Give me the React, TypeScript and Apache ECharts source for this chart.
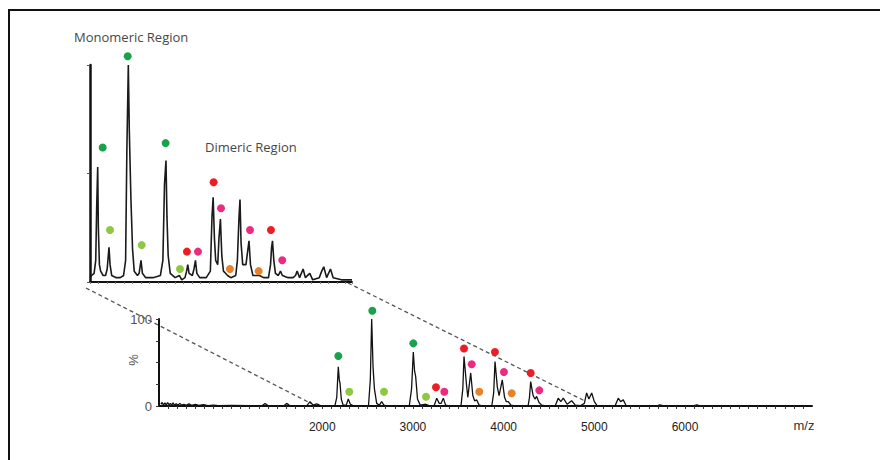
import React, { useEffect, useRef } from "react";
import * as echarts from "echarts";

// ---------- Data (m/z, relative intensity %) ----------
const xTickLabels = [2000, 3000, 4000, 5000, 6000];

const mainSpectrum: [number, number][] = [
  [220, 2], [235, 4], [250, 1], [265, 3.5], [280, 1], [295, 4], [310, 1.5], [325, 3], [340, 1], [355, 3.5],
  [370, 1], [390, 2.5], [410, 1], [430, 3], [450, 1], [475, 2], [500, 0.8], [530, 2.5], [560, 0.8], [600, 2],
  [640, 0.6], [690, 1.5], [740, 0.5], [800, 1], [860, 0.5], [1000, 0.6], [1200, 0.5],
  [1340, 0.5], [1369, 3], [1400, 0.5], [1580, 0.5], [1608, 3], [1640, 0.5],
  [1830, 0.5], [1865, 5], [1900, 1], [1939, 2.5], [1980, 0.5],
  [2140, 0.5], [2160, 10], [2177, 45], [2188, 30], [2196, 26], [2210, 8], [2230, 1], [2265, 1], [2287, 8], [2310, 2], [2340, 0.5],
  [2510, 0.5], [2530, 30], [2545, 100], [2560, 45], [2575, 20], [2600, 3], [2630, 1], [2655, 5], [2680, 1], [2700, 0.5],
  [2960, 0.5], [2985, 20], [3004, 62], [3018, 40], [3030, 34], [3050, 8], [3080, 1], [3140, 2], [3180, 0.5],
  [3235, 0.5], [3262, 9], [3290, 3], [3310, 3], [3335, 9], [3360, 1], [3390, 0.5],
  [3530, 0.5], [3550, 20], [3563, 57], [3590, 25], [3605, 10], [3637, 38], [3660, 12], [3680, 6], [3703, 7], [3730, 1], [3760, 0.5],
  [3870, 0.5], [3890, 15], [3905, 51], [3930, 22], [3950, 12], [3985, 30], [4010, 10], [4030, 5], [4051, 5], [4080, 1], [4110, 0.5],
  [4270, 0.5], [4285, 10], [4298, 28], [4325, 12], [4345, 8], [4364, 11], [4390, 4], [4420, 1], [4450, 0.5],
  [4570, 0.5], [4602, 9], [4630, 5], [4658, 9], [4700, 2], [4750, 6], [4790, 1], [4850, 0.5],
  [4890, 3], [4915, 15], [4940, 8], [4971, 15], [5000, 5], [5030, 0.5],
  [5230, 0.5], [5264, 9], [5290, 5], [5319, 7], [5350, 0.5],
  [5700, 0.5], [5720, 1.2], [5760, 0.5], [6100, 0.5], [6130, 1.2], [6160, 0.5], [7400, 0.5],
];

const insetSpectrum: [number, number][] = [
  [2080, 2], [2100, 3], [2130, 4], [2150, 10], [2162, 35], [2174, 53], [2182, 25], [2195, 8], [2210, 5], [2240, 3],
  [2270, 3], [2290, 6], [2312, 16], [2325, 8], [2345, 3], [2400, 2], [2450, 2], [2490, 3],
  [2515, 10], [2530, 60], [2548, 100], [2560, 70], [2580, 38], [2600, 15], [2620, 5], [2660, 3], [2680, 4], [2703, 10], [2720, 4],
  [2760, 2], [2850, 2], [2940, 3], [2970, 10], [2990, 45], [3008, 56], [3020, 30], [3035, 12], [3060, 4], [3120, 2],
  [3171, 3], [3200, 1], [3240, 2], [3260, 5], [3274, 8], [3290, 4], [3330, 3], [3350, 6], [3368, 10], [3385, 4], [3420, 2],
  [3500, 2], [3550, 5], [3570, 30], [3584, 39], [3600, 20], [3615, 10], [3640, 8], [3655, 20], [3673, 29], [3690, 12],
  [3710, 5], [3735, 4], [3760, 3], [3800, 2], [3860, 3], [3880, 10], [3900, 30], [3912, 38], [3925, 18], [3945, 8],
  [3985, 8], [4005, 14], [4022, 19], [4040, 8], [4070, 3], [4150, 3], [4200, 2], [4260, 2], [4285, 8], [4298, 16],
  [4309, 19], [4325, 10], [4345, 4], [4380, 3], [4406, 5], [4430, 3], [4500, 2], [4560, 2], [4590, 3], [4610, 5],
  [4640, 2], [4683, 6], [4710, 2], [4764, 4], [4800, 1], [4880, 2], [4910, 5], [4935, 7], [4970, 2], [5017, 6],
  [5050, 2], [5150, 1], [5280, 1],
];

// Marker dots (m/z, %)
const mainGreen: [number, number][] = [[2177, 57.5], [2552, 109.5], [3004, 72]];
const mainLightGreen: [number, number][] = [[2298, 16.4], [2681, 16.4], [3144, 10.7]];
const mainRed: [number, number][] = [[3254, 21.5], [3563, 66], [3904, 62], [4298, 38]];
const mainPink: [number, number][] = [[3346, 16.4], [3648, 48], [4003, 39], [4393, 18]];
const mainOrange: [number, number][] = [[3731, 16.4], [4089, 14.6]];

const insetGreen: [number, number][] = [[2235, 62], [2540, 104], [3004, 64]];
const insetLightGreen: [number, number][] = [[2324, 24], [2711, 17], [3179, 6]];
const insetRed: [number, number][] = [[3264, 14], [3590, 46], [4290, 24]];
const insetPink: [number, number][] = [[3399, 14], [3680, 34], [4034, 24], [4428, 10]];
const insetOrange: [number, number][] = [[3789, 6], [4140, 5]];

const GREEN = "#17a24b";
const LIGHT_GREEN = "#8dc83f";
const RED = "#ee1c24";
const PINK = "#ec2a7f";
const ORANGE = "#e8812a";

function dots(data: [number, number][], color: string, idx: number) {
  return {
    type: "scatter",
    xAxisIndex: idx,
    yAxisIndex: idx,
    data,
    symbolSize: 8,
    clip: false,
    itemStyle: { color, opacity: 1 },
    z: 5,
  };
}

export default function App() {
  const ref = useRef<HTMLDivElement>(null);
  useEffect(() => {
    const chart = echarts.init(ref.current!, null, { renderer: "svg" });
    const option: any = {
      animation: false,
      textStyle: { fontFamily: "Liberation Sans" },
      grid: [
        { left: 159, top: 319, width: 653, height: 87 },
        { left: 90, top: 65, width: 262, height: 217 },
      ],
      xAxis: [
        {
          type: "value",
          gridIndex: 0,
          min: 200,
          max: 7400,
          interval: 100,
          splitLine: { show: false },
          axisLine: { lineStyle: { color: "#111", width: 2 } },
          axisTick: { length: 3, inside: false, lineStyle: { color: "#333", width: 1 } },
          axisLabel: {
            margin: 15,
            fontSize: 12,
            color: "#222",
            showMinLabel: false,
            showMaxLabel: false,
            formatter: (v: number) => (xTickLabels.includes(v) ? String(v) : ""),
          },
        },
        {
          type: "value",
          gridIndex: 1,
          min: 2080,
          max: 5280,
          interval: 104,
          splitLine: { show: false },
          axisLine: { lineStyle: { color: "#111", width: 2 } },
          axisTick: { length: 2, lineStyle: { color: "#777", width: 1 } },
          axisLabel: { show: false },
        },
      ],
      yAxis: [
        {
          type: "value",
          gridIndex: 0,
          min: 0,
          max: 100,
          interval: 25,
          splitLine: { show: false },
          axisLine: { show: true, lineStyle: { color: "#111", width: 2 } },
          axisTick: { show: true, length: 3, lineStyle: { color: "#333" } },
          axisLabel: {
            margin: 7,
            fontSize: 13,
            color: "#555",
            formatter: (v: number) => (v === 0 || v === 100 ? String(v) : ""),
          },
        },
        {
          type: "value",
          gridIndex: 1,
          min: 0,
          max: 100,
          interval: 50,
          splitLine: { show: false },
          axisLine: { show: true, lineStyle: { color: "#111", width: 2.5 } },
          axisTick: { show: true, length: 3, lineStyle: { color: "#555" } },
          axisLabel: { show: false },
        },
      ],
      series: [
        {
          type: "line",
          xAxisIndex: 0,
          yAxisIndex: 0,
          data: mainSpectrum,
          showSymbol: false,
          lineStyle: { color: "#111", width: 1.3 },
          z: 3,
        },
        {
          type: "line",
          xAxisIndex: 1,
          yAxisIndex: 1,
          data: insetSpectrum,
          showSymbol: false,
          lineStyle: { color: "#1a1a1a", width: 1.6 },
          z: 3,
        },
        dots(mainGreen, GREEN, 0),
        dots(mainLightGreen, LIGHT_GREEN, 0),
        dots(mainRed, RED, 0),
        dots(mainPink, PINK, 0),
        dots(mainOrange, ORANGE, 0),
        dots(insetGreen, GREEN, 1),
        dots(insetLightGreen, LIGHT_GREEN, 1),
        dots(insetRed, RED, 1),
        dots(insetPink, PINK, 1),
        dots(insetOrange, ORANGE, 1),
      ],
      graphic: [
        {
          type: "rect",
          shape: { x: 9, y: 10, width: 900, height: 500 },
          style: { fill: "none", stroke: "#111", lineWidth: 2 },
          z: 10,
        },
        {
          type: "line",
          shape: { x1: 86, y1: 288, x2: 312, y2: 404 },
          style: { stroke: "#555", lineWidth: 1.3, lineDash: [4, 3] },
        },
        {
          type: "line",
          shape: { x1: 348, y1: 283, x2: 585, y2: 401 },
          style: { stroke: "#555", lineWidth: 1.3, lineDash: [4, 3] },
        },
        {
          type: "text",
          x: 74,
          y: 37,
          style: {
            text: "Monomeric Region",
            fontFamily: "Open Sans",
            fontSize: 13,
            fill: "#484848",
            verticalAlign: "middle",
          },
        },
        {
          type: "text",
          x: 205,
          y: 147,
          style: {
            text: "Dimeric Region",
            fontFamily: "Open Sans",
            fontSize: 13,
            fill: "#484848",
            verticalAlign: "middle",
          },
        },
        {
          type: "text",
          x: 133,
          y: 360,
          rotation: Math.PI / 2,
          style: {
            text: "%",
            fontFamily: "Liberation Sans",
            fontSize: 13,
            fill: "#555",
            align: "center",
            verticalAlign: "middle",
          },
        },
        {
          type: "text",
          x: 804,
          y: 425,
          style: {
            text: "m/z",
            fontFamily: "Liberation Sans",
            fontSize: 13,
            fill: "#333",
            align: "center",
            verticalAlign: "middle",
          },
        },
      ],
    };
    chart.setOption(option);
    return () => chart.dispose();
  }, []);
  return (
    <div
      ref={ref}
      style={{ position: "absolute", left: 0, top: 0, width: 880, height: 460, background: "#fff" }}
    />
  );
}
